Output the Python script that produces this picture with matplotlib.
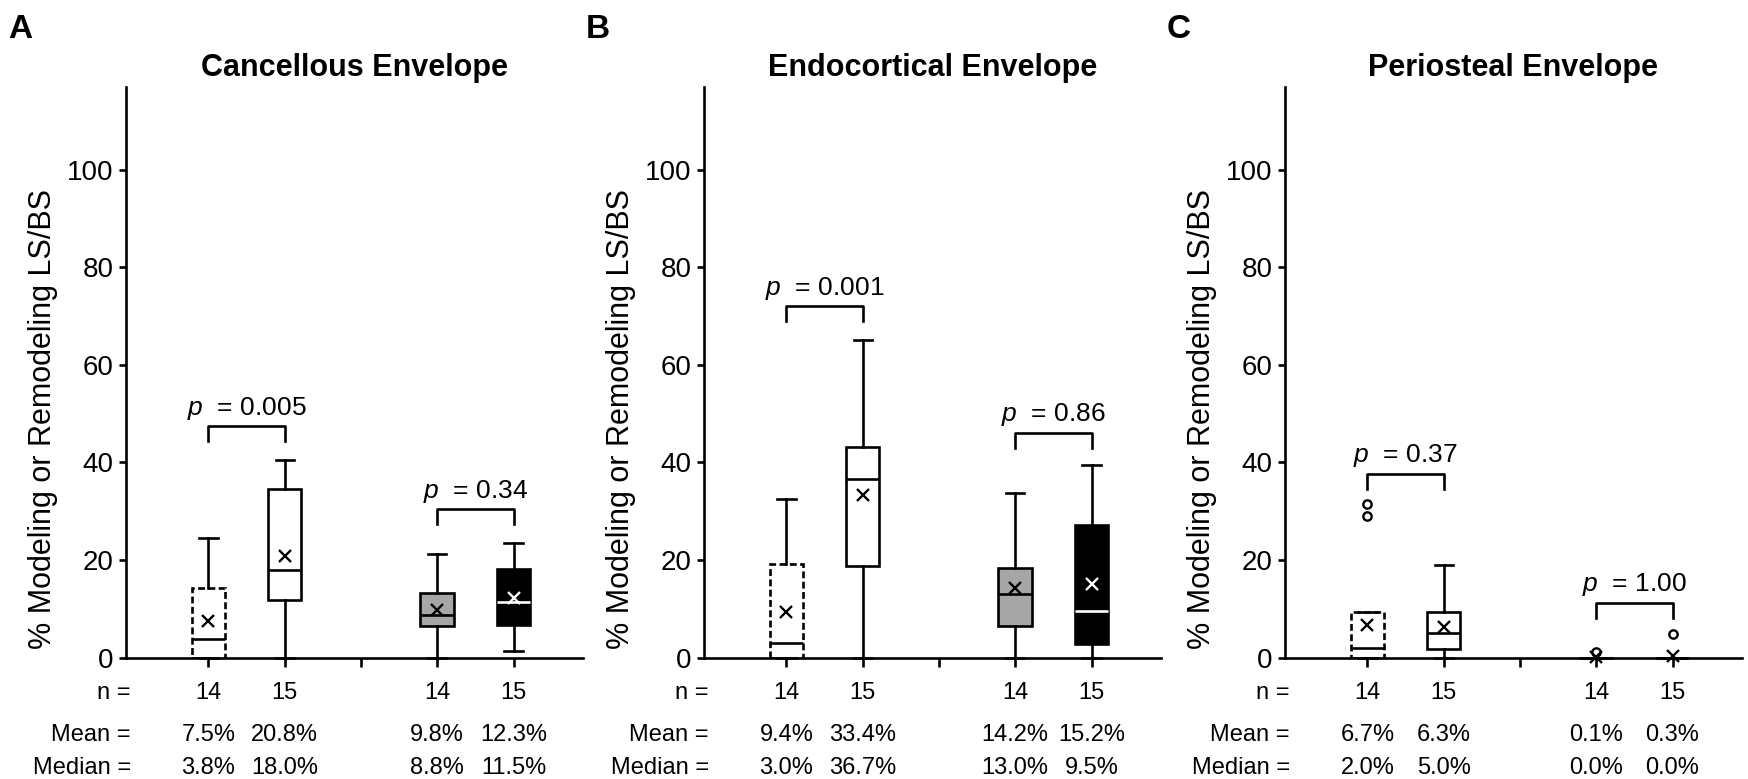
import matplotlib.pyplot as plt
from matplotlib.transforms import blended_transform_factory

plt.rcParams['font.family'] = ['Liberation Sans', 'DejaVu Sans']
plt.rcParams['mathtext.fontset'] = 'custom'
plt.rcParams['mathtext.it'] = 'Liberation Sans:italic'
plt.rcParams['mathtext.rm'] = 'Liberation Sans'

# group layout shared by all three envelopes
positions = [1, 2, 4, 5]
n_counts = [14, 15, 14, 15]
titles = ['Cancellous Envelope', 'Endocortical Envelope', 'Periosteal Envelope']
letters = ['A', 'B', 'C']

# cancellous
canc_mean = [7.5, 20.8, 9.8, 12.3]
canc_median = [3.8, 18.0, 8.8, 11.5]
canc_q1 = [0.0, 11.8, 6.5, 6.6]
canc_q3 = [14.2, 34.5, 13.3, 18.1]
canc_wlo = [0.0, 0.0, 0.0, 1.4]
canc_whi = [24.6, 40.5, 21.2, 23.5]
canc_fliers = [[], [], [], []]
canc_p = ['0.005', '0.34']
canc_bracket = [47.5, 30.4]

# endocortical
endo_mean = [9.4, 33.4, 14.2, 15.2]
endo_median = [3.0, 36.7, 13.0, 9.5]
endo_q1 = [0.0, 18.8, 6.4, 2.9]
endo_q3 = [19.2, 43.2, 18.3, 27.2]
endo_wlo = [0.0, 0.0, 0.0, 0.0]
endo_whi = [32.6, 65.1, 33.7, 39.4]
endo_fliers = [[], [], [], []]
endo_p = ['0.001', '0.86']
endo_bracket = [72.1, 46.1]

# periosteal
peri_mean = [6.7, 6.3, 0.1, 0.3]
peri_median = [2.0, 5.0, 0.0, 0.0]
peri_q1 = [0.0, 1.8, 0.0, 0.0]
peri_q3 = [9.4, 9.4, 0.0, 0.0]
peri_wlo = [0.0, 0.0, 0.0, 0.0]
peri_whi = [9.4, 18.9, 0.0, 0.0]
peri_fliers = [[29.1, 31.5], [], [1.2], [4.8]]
peri_p = ['0.37', '1.00']
peri_bracket = [37.7, 11.3]

panels = [
    (canc_mean, canc_median, canc_q1, canc_q3, canc_wlo, canc_whi, canc_fliers, canc_p, canc_bracket),
    (endo_mean, endo_median, endo_q1, endo_q3, endo_wlo, endo_whi, endo_fliers, endo_p, endo_bracket),
    (peri_mean, peri_median, peri_q1, peri_q3, peri_wlo, peri_whi, peri_fliers, peri_p, peri_bracket),
]

face_colors = ['white', 'white', '#a6a6a6', 'black']
LW = 1.9


def draw_panel(ax, title, letter, mean, median, q1, q3, wlo, whi, fliers, pvals, bracket_y):
    stats = []
    for i in range(len(positions)):
        stats.append(dict(med=median[i], q1=q1[i], q3=q3[i], whislo=wlo[i],
                          whishi=whi[i], mean=mean[i], fliers=fliers[i]))

    art = ax.bxp(stats, positions=positions, widths=0.44, capwidths=0.24,
                 patch_artist=True, showmeans=True,
                 boxprops=dict(linewidth=LW, edgecolor='black'),
                 whiskerprops=dict(linewidth=LW, color='black'),
                 capprops=dict(linewidth=LW, color='black'),
                 medianprops=dict(linewidth=LW, color='black'),
                 meanprops=dict(marker='x', markeredgecolor='black', markersize=8,
                                markeredgewidth=1.7),
                 flierprops=dict(marker='o', markerfacecolor='none', markeredgecolor='black',
                                 markersize=6, markeredgewidth=1.7))

    for box, fc in zip(art['boxes'], face_colors):
        box.set_facecolor(fc)
    art['boxes'][0].set_linestyle((0, (2.6, 1.3)))
    # white median / mean only where the black box actually has height
    if q3[3] > q1[3]:
        art['medians'][3].set_color('white')
        art['means'][3].set_markeredgecolor('white')
    for key in ['means', 'fliers', 'caps', 'whiskers', 'medians']:
        for a in art[key]:
            a.set_clip_on(False)
            a.set_zorder(3)

    # significance brackets between the paired groups
    for k, (pv, y) in enumerate(zip(pvals, bracket_y)):
        x1, x2 = positions[2 * k], positions[2 * k + 1]
        ax.plot([x1, x1, x2, x2], [y - 3.1, y, y, y - 3.1], color='black', lw=LW)
        ax.text((x1 + x2) / 2, y + 2.3, r'$p$  = ' + pv, ha='center', va='baseline',
                fontsize=19)

    ax.set_xlim(-0.08, 5.91)
    ax.set_ylim(0, 117)
    ax.set_xticks([1, 2, 3, 4, 5])
    ax.set_xticklabels([])
    ax.set_yticks([0, 20, 40, 60, 80, 100])
    ax.tick_params(axis='y', direction='out', length=5, width=LW, labelsize=20, pad=4)
    ax.tick_params(axis='x', direction='out', length=6.5, width=LW)
    for side in ['top', 'right']:
        ax.spines[side].set_visible(False)
    for side in ['left', 'bottom']:
        ax.spines[side].set_linewidth(LW)

    ax.set_ylabel('% Modeling or Remodeling LS/BS', fontsize=22)
    ax.yaxis.set_label_coords(-0.148, 0.418)

    ax.text(0.5, 1.033, title, transform=ax.transAxes, ha='center', va='center',
            fontsize=22, fontweight='bold')
    ax.text(-0.232, 1.1, letter, transform=ax.transAxes, ha='center', va='center',
            fontsize=24, fontweight='bold')

    # sample sizes and summary rows under the axis
    trans = blended_transform_factory(ax.transData, ax.transAxes)
    rows = [(-0.062, 'n =', [str(n) for n in n_counts]),
            (-0.135, 'Mean =', [f'{m:.1f}%' for m in mean]),
            (-0.193, 'Median =', [f'{m:.1f}%' for m in median])]
    for y, label, vals in rows:
        ax.text(-0.015, y, label, transform=trans, ha='right', va='center', fontsize=17,
                clip_on=False)
        for pos, v in zip(positions, vals):
            ax.text(pos, y, v, transform=trans, ha='center', va='center', fontsize=17,
                    clip_on=False)


fig = plt.figure(figsize=(17.48, 7.79), dpi=100)
lefts = [126 / 1748, 704 / 1748, 1285 / 1748]
for left, title, letter, data in zip(lefts, titles, letters, panels):
    ax = fig.add_axes([left, 0.1557, 0.2614, 0.733])
    draw_panel(ax, title, letter, *data)

fig.savefig('out.png', dpi=100)
